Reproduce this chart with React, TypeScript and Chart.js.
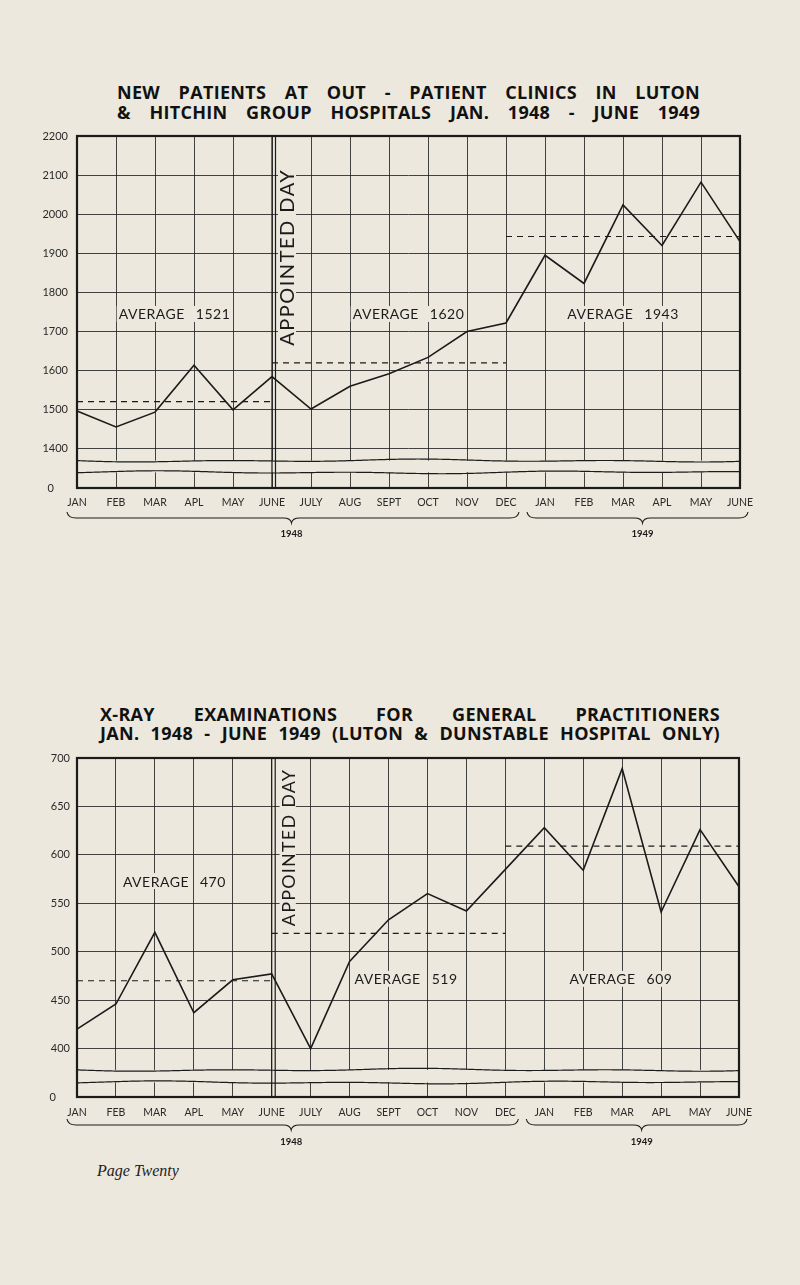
import React, { useEffect, useRef } from 'react';
import { Chart, registerables } from 'chart.js';

Chart.register(...registerables);

const BG = '#ece8dd';
const INK = '#1b1b1b';
const GRID = 'rgba(35,35,35,0.85)';
const SANS = 'Lato, "Open Sans", sans-serif';
const TITLE_FONT = '"Open Sans", Lato, sans-serif';

// ---------- data ----------
const monthLabels = ['JAN', 'FEB', 'MAR', 'APL', 'MAY', 'JUNE', 'JULY', 'AUG', 'SEPT', 'OCT', 'NOV', 'DEC', 'JAN', 'FEB', 'MAR', 'APL', 'MAY', 'JUNE'];
const yearLabels = ['1948', '1949'];

const patientValues = [1497, 1456, 1494, 1614, 1500, 1585, 1502, 1560, 1592, 1634, 1700, 1722, 1895, 1823, 2024, 1920, 2082, 1930];
const patientAverages = [1521, 1620, 1943];
const patientYTicks = [1300, 1400, 1500, 1600, 1700, 1800, 1900, 2000, 2100, 2200];

const xrayValues = [420, 446, 520, 437, 471, 477, 400, 490, 533, 560, 542, 585, 628, 584, 689, 541, 626, 567];
const xrayAverages = [470, 519, 609];
const xrayYTicks = [350, 400, 450, 500, 550, 600, 650, 700];

// index ranges (months) covered by each average line
const averageSpans = [[0, 5], [5, 11], [11, 17]];

type PanelCfg = {
  top: number; height: number;
  areaLeft: number; areaRight: number; areaTop: number; areaBottom: number;
  values: number[]; averages: number[]; yTicks: number[];
  yPad: number; xPad: number;
  breakUpper: number; breakLower: number;
  appointedY: number; appointedSize: number; appointedDx: number; appointedSpacing: number;
  avgLabels: { idx: number; val: number }[];
  braceY: number; yearY: number;
};

function drawBrace(ctx: CanvasRenderingContext2D, x1: number, xm: number, x2: number, y: number) {
  ctx.beginPath();
  ctx.moveTo(x1, y - 6);
  ctx.quadraticCurveTo(x1 + 1, y, x1 + 9, y);
  ctx.lineTo(xm - 8, y);
  ctx.quadraticCurveTo(xm - 1, y, xm, y + 5);
  ctx.quadraticCurveTo(xm + 1, y, xm + 8, y);
  ctx.lineTo(x2 - 9, y);
  ctx.quadraticCurveTo(x2 - 1, y, x2, y - 6);
  ctx.stroke();
}

function decorPlugin(cfg: PanelCfg) {
  return {
    id: 'decor',
    beforeDatasetsDraw(chart: any) {
      const { ctx, chartArea: ca } = chart;
      const x = chart.scales.x, y = chart.scales.y;
      ctx.save();
      // scale break band
      const yU = y.getPixelForValue(cfg.breakUpper);
      const yL = y.getPixelForValue(cfg.breakLower);
      ctx.fillStyle = BG;
      ctx.fillRect(ca.left + 1, yU, ca.width - 2, yL - yU);
      ctx.strokeStyle = INK;
      ctx.lineWidth = 1.2;
      ([[yU, 0.0], [yL, 2.1]] as number[][]).forEach(([yy, ph]) => {
        ctx.beginPath();
        for (let px = ca.left; px <= ca.right; px += 2) {
          const t = px - ca.left;
          const w = Math.sin(t / 31 + ph) * 0.8 + Math.sin(t / 73 + ph * 1.7) * 0.8;
          if (t === 0) ctx.moveTo(px, yy + w); else ctx.lineTo(px, yy + w);
        }
        ctx.stroke();
      });
      // appointed day double line
      const xa = x.getPixelForValue(5);
      ctx.lineWidth = 1.2;
      ctx.beginPath();
      ctx.moveTo(xa, ca.top); ctx.lineTo(xa, ca.bottom);
      ctx.moveTo(xa + 3.5, ca.top); ctx.lineTo(xa + 3.5, ca.bottom);
      ctx.stroke();
      // appointed day text
      const ax = xa + cfg.appointedDx, ay = y.getPixelForValue(cfg.appointedY);
      ctx.font = `${cfg.appointedSize}px ${SANS}`;
      (ctx as any).letterSpacing = `${cfg.appointedSpacing}px`;
      const txt = 'APPOINTED DAY';
      const tw = ctx.measureText(txt).width;
      ctx.fillStyle = BG;
      ctx.fillRect(ax - cfg.appointedSize * 0.45, ay - tw / 2 - 3, cfg.appointedSize * 0.9, tw + 6);
      ctx.save();
      ctx.translate(ax, ay);
      ctx.rotate(-Math.PI / 2);
      ctx.fillStyle = INK;
      ctx.textAlign = 'center';
      ctx.textBaseline = 'middle';
      ctx.fillText(txt, cfg.appointedSpacing / 2, 1);
      ctx.restore();
      (ctx as any).letterSpacing = '0px';
      // average labels
      ctx.font = `14px ${SANS}`;
      (ctx as any).letterSpacing = '0.5px';
      ctx.textAlign = 'left';
      ctx.textBaseline = 'middle';
      cfg.avgLabels.forEach((p, i) => {
        const word = 'AVERAGE', num = String(cfg.averages[i]);
        const w1 = ctx.measureText(word).width, w2 = ctx.measureText(num).width, gap = 11;
        const total = w1 + gap + w2;
        const cx = x.getPixelForValue(p.idx), cy = y.getPixelForValue(p.val);
        const x0 = cx - total / 2;
        ctx.fillStyle = BG;
        ctx.fillRect(x0 - 2, cy - 8, w1 + 4, 16);
        ctx.fillRect(x0 + w1 + gap - 2, cy - 8, w2 + 4, 16);
        ctx.fillStyle = INK;
        ctx.fillText(word, x0, cy + 1);
        ctx.fillText(num, x0 + w1 + gap, cy + 1);
      });
      (ctx as any).letterSpacing = '0px';
      ctx.restore();
    },
    afterDraw(chart: any) {
      const { ctx, chartArea: ca } = chart;
      const x = chart.scales.x;
      ctx.save();
      ctx.strokeStyle = INK;
      ctx.lineWidth = 2.2;
      ctx.strokeRect(ca.left, ca.top, ca.width, ca.height);
      const px = (i: number) => x.getPixelForValue(i);
      const b1 = [px(0) - 10, (px(5) + px(6)) / 2, px(11) + 13];
      const b2 = [px(12) - 18, (px(14) + px(15)) / 2, px(17) + 8];
      ctx.lineWidth = 1.1;
      drawBrace(ctx, b1[0], b1[1], b1[2], cfg.braceY);
      drawBrace(ctx, b2[0], b2[1], b2[2], cfg.braceY);
      ctx.fillStyle = INK;
      ctx.font = `bold 9.5px ${SANS}`;
      ctx.textAlign = 'center';
      ctx.textBaseline = 'middle';
      ctx.fillText(yearLabels[0], b1[1], cfg.yearY);
      ctx.fillText(yearLabels[1], b2[1], cfg.yearY);
      ctx.restore();
    },
  };
}

function averageSeries(avgs: number[]) {
  return avgs.map((a, i) =>
    monthLabels.map((_, k) => (k >= averageSpans[i][0] && k <= averageSpans[i][1] ? a : null))
  );
}

function Panel({ cfg }: { cfg: PanelCfg }) {
  const ref = useRef<HTMLCanvasElement>(null);
  useEffect(() => {
    const yMin = cfg.yTicks[0];
    const chart = new Chart(ref.current as HTMLCanvasElement, {
      type: 'line',
      data: {
        labels: monthLabels,
        datasets: [
          { data: cfg.values, borderColor: INK, borderWidth: 1.6, pointRadius: 0, tension: 0, fill: false },
          ...averageSeries(cfg.averages).map((d) => ({
            data: d, borderColor: INK, borderWidth: 1.2, borderDash: [6, 5], pointRadius: 0, spanGaps: false, fill: false,
          })),
        ] as any,
      },
      options: {
        animation: false,
        responsive: false,
        devicePixelRatio: 1,
        layout: { padding: { top: cfg.areaTop, right: 800 - cfg.areaRight, left: 0, bottom: 0 } },
        plugins: { legend: { display: false }, tooltip: { enabled: false }, title: { display: false } },
        scales: {
          x: {
            type: 'category',
            offset: false,
            grid: { color: GRID, lineWidth: 1, drawTicks: false },
            border: { display: false },
            ticks: { autoSkip: false, maxRotation: 0, minRotation: 0, padding: cfg.xPad, color: '#2a2a2a', font: { family: SANS, size: 10.5 } },
            afterFit: (s: any) => { s.height = cfg.height - cfg.areaBottom; },
          },
          y: {
            type: 'linear',
            min: yMin,
            max: cfg.yTicks[cfg.yTicks.length - 1],
            grid: { color: GRID, lineWidth: 1, drawTicks: false },
            border: { display: false },
            ticks: {
              padding: cfg.yPad,
              color: '#2a2a2a',
              font: { family: SANS, size: 11 },
              callback: (v: any) => (v === yMin ? '0     ' : String(v)),
            },
            afterBuildTicks: (s: any) => { s.ticks = cfg.yTicks.map((v) => ({ value: v })); },
            afterFit: (s: any) => { s.width = cfg.areaLeft; },
          },
        },
      } as any,
      plugins: [decorPlugin(cfg)],
    });
    return () => chart.destroy();
  }, []);
  return (
    <canvas
      ref={ref}
      width={800}
      height={cfg.height}
      style={{ position: 'absolute', left: 0, top: cfg.top, width: 800, height: cfg.height }}
    />
  );
}

const patientCfg: PanelCfg = {
  top: 0, height: 560,
  areaLeft: 77, areaRight: 740, areaTop: 136, areaBottom: 488,
  values: patientValues, averages: patientAverages, yTicks: patientYTicks,
  yPad: 9, xPad: 8,
  breakUpper: 1370, breakLower: 1340,
  appointedY: 1888, appointedSize: 20, appointedDx: 15, appointedSpacing: 1.5,
  avgLabels: [{ idx: 2.5, val: 1745 }, { idx: 8.5, val: 1745 }, { idx: 14.0, val: 1745 }],
  braceY: 518, yearY: 534,
};

const xrayCfg: PanelCfg = {
  top: 640, height: 520,
  areaLeft: 77, areaRight: 739, areaTop: 118, areaBottom: 457,
  values: xrayValues, averages: xrayAverages, yTicks: xrayYTicks,
  yPad: 7, xPad: 9,
  breakUpper: 378, breakLower: 365,
  appointedY: 607, appointedSize: 18, appointedDx: 16, appointedSpacing: 1.2,
  avgLabels: [{ idx: 2.5, val: 573 }, { idx: 8.45, val: 472 }, { idx: 13.97, val: 472 }],
  braceY: 485, yearY: 502,
};

const titleStyle = (left: number, top: number, width: number): React.CSSProperties => ({
  position: 'absolute', left, top, width,
  font: `bold 18px ${TITLE_FONT}`, lineHeight: '20px', color: '#111', letterSpacing: '0.3px',
  whiteSpace: 'nowrap', textAlign: 'justify', textAlignLast: 'justify' as any,
});

export default function App() {
  return (
    <div style={{ position: 'absolute', left: 0, top: 0, width: 800, height: 1285, background: BG, overflow: 'hidden' }}>
      <div style={titleStyle(117, 82, 583)}>NEW PATIENTS AT OUT - PATIENT CLINICS IN LUTON</div>
      <div style={titleStyle(117, 102, 583)}>&amp; HITCHIN GROUP HOSPITALS JAN. 1948 - JUNE 1949</div>
      <Panel cfg={patientCfg} />
      <div style={titleStyle(100, 704, 620)}>X-RAY EXAMINATIONS FOR GENERAL PRACTITIONERS</div>
      <div style={titleStyle(100, 723, 620)}>JAN. 1948 - JUNE 1949 (LUTON &amp; DUNSTABLE HOSPITAL ONLY)</div>
      <Panel cfg={xrayCfg} />
      <div style={{ position: 'absolute', left: 97, top: 1162, font: 'italic 16px "Liberation Serif", serif', color: '#222' }}>
        Page Twenty
      </div>
    </div>
  );
}
